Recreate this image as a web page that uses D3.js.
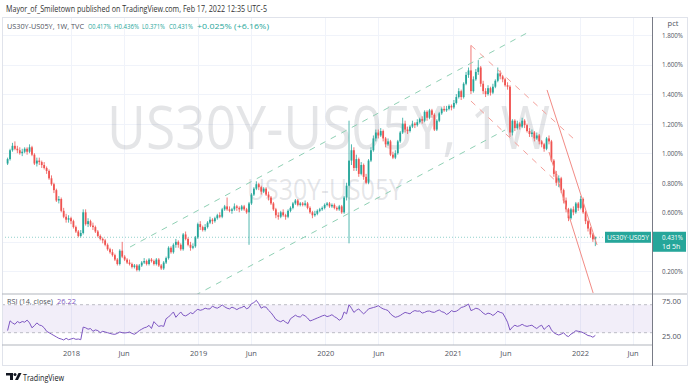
<!DOCTYPE html>
<html>
<head>
<meta charset="utf-8">
<script src="https://d3js.org/d3.v7.min.js"></script>
<style>
  body { margin: 0; background: #fff; }
  svg text { font-family: "Open Sans", "DejaVu Sans", sans-serif; }
</style>
</head>
<body>
<svg width="694" height="384"></svg>
<script>
  // weekly bars of TVC:US30Y - TVC:US05Y, first bar = week of 2017-07-03
  var firstWeek = new Date(2017, 6, 3);

  var opens = [
    0.93, 0.96, 1.02, 1.05, 1.03, 1.02, 1.00, 1.01, 1.03, 1.01,
    1.04, 0.99, 0.93, 0.95, 0.94, 0.92, 0.90, 0.88, 0.83, 0.79,
    0.75, 0.68, 0.69, 0.61, 0.57, 0.55, 0.56, 0.54, 0.50, 0.47,
    0.44, 0.46, 0.60, 0.52, 0.54, 0.51, 0.50, 0.47, 0.44, 0.42,
    0.41, 0.38, 0.35, 0.33, 0.31, 0.28, 0.25, 0.34, 0.30, 0.28,
    0.26, 0.25, 0.23, 0.24, 0.21, 0.24, 0.26, 0.27, 0.25, 0.28,
    0.27, 0.25, 0.28, 0.24, 0.22, 0.26, 0.29, 0.36, 0.33, 0.38,
    0.40, 0.38, 0.35, 0.45, 0.42, 0.38, 0.36, 0.37, 0.43, 0.52,
    0.50, 0.48, 0.50, 0.53, 0.55, 0.54, 0.56, 0.58, 0.57, 0.62,
    0.64, 0.62, 0.61, 0.62, 0.64, 0.63, 0.62, 0.64, 0.62, 0.60,
    0.66, 0.72, 0.76, 0.79, 0.77, 0.74, 0.76, 0.72, 0.70, 0.66,
    0.62, 0.58, 0.57, 0.60, 0.58, 0.57, 0.61, 0.63, 0.66, 0.68,
    0.65, 0.66, 0.65, 0.66, 0.63, 0.60, 0.58, 0.59, 0.61, 0.62,
    0.63, 0.65, 0.66, 0.64, 0.65, 0.63, 0.62, 0.64, 0.60, 0.70,
    0.78, 0.95, 1.02, 0.90, 0.96, 0.86, 0.92, 0.84, 0.80, 0.95,
    1.02, 1.10, 1.14, 1.12, 1.15, 1.10, 1.06, 1.08, 0.99, 0.97,
    1.00, 1.08, 1.14, 1.20, 1.16, 1.15, 1.18, 1.20, 1.19, 1.21,
    1.23, 1.22, 1.28, 1.24, 1.29, 1.26, 1.16, 1.22, 1.27, 1.30,
    1.29, 1.30, 1.32, 1.31, 1.34, 1.38, 1.42, 1.38, 1.47, 1.53,
    1.56, 1.42, 1.50, 1.55, 1.58, 1.47, 1.42, 1.40, 1.44, 1.41,
    1.45, 1.49, 1.54, 1.52, 1.50, 1.46, 1.45, 1.14, 1.22, 1.17,
    1.20, 1.18, 1.22, 1.19, 1.15, 1.13, 1.14, 1.10, 1.12, 1.08,
    1.06, 1.03, 1.10, 1.08, 0.95, 0.86, 0.80, 0.83, 0.75, 0.68,
    0.62, 0.56, 0.62, 0.60, 0.66, 0.63, 0.69, 0.60, 0.54, 0.49,
    0.45, 0.417
  ];
  var highs = [
    0.97, 1.03, 1.07, 1.08, 1.05, 1.04, 1.03, 1.04, 1.04, 1.06,
    1.05, 1.00, 0.97, 0.97, 0.95, 0.94, 0.91, 0.89, 0.85, 0.80,
    0.76, 0.71, 0.70, 0.63, 0.59, 0.58, 0.57, 0.55, 0.51, 0.48,
    0.48, 0.62, 0.62, 0.56, 0.55, 0.53, 0.51, 0.48, 0.45, 0.43,
    0.42, 0.39, 0.36, 0.35, 0.32, 0.29, 0.35, 0.40, 0.31, 0.29,
    0.28, 0.26, 0.25, 0.25, 0.25, 0.27, 0.29, 0.28, 0.29, 0.29,
    0.28, 0.29, 0.29, 0.25, 0.27, 0.30, 0.37, 0.37, 0.39, 0.42,
    0.41, 0.39, 0.46, 0.47, 0.43, 0.40, 0.39, 0.44, 0.53, 0.54,
    0.51, 0.52, 0.54, 0.57, 0.56, 0.57, 0.59, 0.60, 0.63, 0.65,
    0.70, 0.64, 0.63, 0.66, 0.65, 0.64, 0.65, 0.65, 0.63, 0.67,
    0.73, 0.77, 0.81, 0.80, 0.78, 0.77, 0.77, 0.74, 0.71, 0.67,
    0.63, 0.60, 0.61, 0.62, 0.59, 0.62, 0.64, 0.67, 0.69, 0.69,
    0.67, 0.67, 0.68, 0.67, 0.64, 0.61, 0.61, 0.62, 0.63, 0.64,
    0.66, 0.67, 0.67, 0.66, 0.66, 0.64, 0.65, 0.65, 0.71, 0.80,
    1.22, 1.06, 1.04, 0.99, 0.97, 0.94, 0.93, 0.86, 0.96, 1.04,
    1.12, 1.16, 1.16, 1.17, 1.16, 1.11, 1.10, 1.09, 1.01, 1.02,
    1.09, 1.15, 1.24, 1.22, 1.18, 1.19, 1.22, 1.21, 1.23, 1.24,
    1.25, 1.29, 1.29, 1.30, 1.30, 1.27, 1.23, 1.28, 1.31, 1.32,
    1.32, 1.33, 1.33, 1.36, 1.40, 1.44, 1.43, 1.48, 1.55, 1.58,
    1.73, 1.52, 1.57, 1.63, 1.59, 1.49, 1.44, 1.46, 1.45, 1.47,
    1.50, 1.58, 1.56, 1.53, 1.51, 1.48, 1.46, 1.23, 1.23, 1.22,
    1.21, 1.24, 1.23, 1.20, 1.17, 1.16, 1.15, 1.14, 1.13, 1.09,
    1.07, 1.11, 1.12, 1.09, 0.96, 0.88, 0.85, 0.84, 0.76, 0.70,
    0.63, 0.63, 0.64, 0.67, 0.67, 0.71, 0.70, 0.61, 0.55, 0.50,
    0.46, 0.436
  ];
  var lows = [
    0.92, 0.95, 1.01, 1.02, 1.00, 0.99, 0.98, 1.00, 0.99, 1.00,
    0.98, 0.92, 0.91, 0.92, 0.90, 0.89, 0.86, 0.82, 0.78, 0.73,
    0.67, 0.66, 0.60, 0.56, 0.53, 0.53, 0.52, 0.49, 0.46, 0.43,
    0.43, 0.45, 0.51, 0.50, 0.50, 0.48, 0.46, 0.43, 0.41, 0.39,
    0.37, 0.34, 0.32, 0.30, 0.27, 0.24, 0.24, 0.29, 0.27, 0.25,
    0.24, 0.22, 0.22, 0.20, 0.20, 0.23, 0.25, 0.24, 0.24, 0.26,
    0.24, 0.24, 0.23, 0.21, 0.21, 0.25, 0.28, 0.32, 0.32, 0.36,
    0.36, 0.34, 0.34, 0.41, 0.37, 0.34, 0.35, 0.36, 0.42, 0.48,
    0.47, 0.47, 0.49, 0.52, 0.52, 0.53, 0.55, 0.56, 0.56, 0.61,
    0.61, 0.60, 0.59, 0.61, 0.61, 0.60, 0.61, 0.61, 0.59, 0.38,
    0.65, 0.71, 0.75, 0.75, 0.72, 0.73, 0.71, 0.68, 0.65, 0.61,
    0.56, 0.55, 0.56, 0.57, 0.55, 0.56, 0.60, 0.62, 0.65, 0.64,
    0.64, 0.64, 0.64, 0.62, 0.59, 0.56, 0.57, 0.58, 0.60, 0.61,
    0.62, 0.64, 0.63, 0.63, 0.62, 0.61, 0.61, 0.59, 0.59, 0.68,
    0.39, 0.92, 0.88, 0.88, 0.84, 0.85, 0.82, 0.79, 0.79, 0.94,
    1.01, 1.08, 1.10, 1.11, 1.08, 1.04, 1.05, 0.98, 0.96, 0.96,
    0.99, 1.07, 1.13, 1.14, 1.13, 1.14, 1.17, 1.17, 1.18, 1.20,
    1.20, 1.21, 1.22, 1.23, 1.24, 1.15, 1.15, 1.21, 1.26, 1.28,
    1.28, 1.29, 1.29, 1.30, 1.33, 1.37, 1.36, 1.37, 1.46, 1.51,
    1.40, 1.41, 1.49, 1.53, 1.45, 1.40, 1.38, 1.39, 1.39, 1.40,
    1.44, 1.48, 1.50, 1.48, 1.45, 1.43, 1.11, 1.12, 1.15, 1.16,
    1.16, 1.17, 1.17, 1.14, 1.11, 1.11, 1.08, 1.09, 1.06, 1.04,
    1.01, 1.02, 1.06, 0.94, 0.84, 0.78, 0.77, 0.73, 0.66, 0.60,
    0.54, 0.55, 0.58, 0.59, 0.61, 0.62, 0.59, 0.52, 0.47, 0.43,
    0.40, 0.371
  ];
  var closes = [
    0.96, 1.02, 1.05, 1.03, 1.02, 1.00, 1.01, 1.03, 1.01, 1.04,
    0.99, 0.93, 0.95, 0.94, 0.92, 0.90, 0.88, 0.83, 0.79, 0.75,
    0.68, 0.69, 0.61, 0.57, 0.55, 0.56, 0.54, 0.50, 0.47, 0.44,
    0.46, 0.60, 0.52, 0.54, 0.51, 0.50, 0.47, 0.44, 0.42, 0.41,
    0.38, 0.35, 0.33, 0.31, 0.28, 0.25, 0.34, 0.30, 0.28, 0.26,
    0.25, 0.23, 0.24, 0.21, 0.24, 0.26, 0.27, 0.25, 0.28, 0.27,
    0.25, 0.28, 0.24, 0.22, 0.26, 0.29, 0.36, 0.33, 0.38, 0.40,
    0.38, 0.35, 0.45, 0.42, 0.38, 0.36, 0.37, 0.43, 0.52, 0.50,
    0.48, 0.50, 0.53, 0.55, 0.54, 0.56, 0.58, 0.57, 0.62, 0.64,
    0.62, 0.61, 0.62, 0.64, 0.63, 0.62, 0.64, 0.62, 0.60, 0.66,
    0.72, 0.76, 0.79, 0.77, 0.74, 0.76, 0.72, 0.70, 0.66, 0.62,
    0.58, 0.57, 0.60, 0.58, 0.57, 0.61, 0.63, 0.66, 0.68, 0.65,
    0.66, 0.65, 0.66, 0.63, 0.60, 0.58, 0.59, 0.61, 0.62, 0.63,
    0.65, 0.66, 0.64, 0.65, 0.63, 0.62, 0.64, 0.60, 0.70, 0.78,
    0.95, 1.02, 0.90, 0.96, 0.86, 0.92, 0.84, 0.80, 0.95, 1.02,
    1.10, 1.14, 1.12, 1.15, 1.10, 1.06, 1.08, 0.99, 0.97, 1.00,
    1.08, 1.14, 1.20, 1.16, 1.15, 1.18, 1.20, 1.19, 1.21, 1.23,
    1.22, 1.28, 1.24, 1.29, 1.26, 1.16, 1.22, 1.27, 1.30, 1.29,
    1.30, 1.32, 1.31, 1.34, 1.38, 1.42, 1.38, 1.47, 1.53, 1.56,
    1.42, 1.50, 1.55, 1.58, 1.47, 1.42, 1.40, 1.44, 1.41, 1.45,
    1.49, 1.54, 1.52, 1.50, 1.46, 1.45, 1.14, 1.22, 1.17, 1.20,
    1.18, 1.22, 1.19, 1.15, 1.13, 1.14, 1.10, 1.12, 1.08, 1.06,
    1.03, 1.10, 1.08, 0.95, 0.86, 0.80, 0.83, 0.75, 0.68, 0.62,
    0.56, 0.62, 0.60, 0.66, 0.63, 0.69, 0.60, 0.54, 0.49, 0.45,
    0.417, 0.431
  ];
  // RSI(14, close)
  var rsi = [
    33, 47, 44, 42, 46, 44, 46, 45, 48, 44,
    37, 40, 44, 41, 40, 37, 32, 30, 28, 26,
    24, 22, 21, 19.6, 22, 20, 21, 22, 20.5, 21,
    20, 38, 37, 35, 36, 32, 34, 33, 30, 32,
    31, 30, 29, 28, 27.7, 29, 31, 30, 29.6, 30,
    31, 29, 27.7, 30, 33, 35, 37, 38, 40.5, 36,
    45.8, 42, 39, 40, 39, 50, 52.4, 56, 59.6, 52,
    56, 59.6, 55, 54, 56, 58.7, 57, 61, 63.4, 62,
    63, 65, 64, 64, 68, 66, 65, 67, 69.7, 67,
    65, 64, 66.5, 65, 63, 65, 66, 68, 64, 66,
    71.4, 73, 76.3, 71.4, 65, 67, 66.5, 62, 58.7, 54,
    49, 47, 45.6, 47.8, 45, 43, 50, 52.4, 55, 53,
    52.4, 55.7, 54, 51, 46.7, 48, 49.5, 51, 52.4, 54,
    55, 53, 54, 55.7, 53, 51, 47.8, 50, 59.6, 57,
    70, 65, 59, 62, 64, 60, 57, 60, 64, 65,
    66, 67, 68.6, 66, 64, 63, 61.6, 57, 54, 52,
    53, 54.6, 57, 59, 58, 57, 60, 61.6, 60.7, 61,
    58, 59, 60.7, 61, 59.5, 59, 61, 62.5, 60, 59,
    56, 58, 61.6, 60, 60.7, 63, 66, 67, 68.6, 71,
    61.6, 63, 65, 64, 61.6, 58, 56, 58, 57, 54.6,
    57, 60.7, 59, 58, 52, 45, 33.7, 38, 40.7, 39,
    40, 42, 40, 39, 40, 40.7, 38, 36, 39, 40.7,
    34.7, 38, 40.7, 34, 30, 28, 26.7, 28, 30, 26,
    24.4, 28, 30, 32.8, 32, 31.4, 30, 28, 26, 25.3,
    23.5, 26.22
  ];

  var timeTicks = [new Date(2018,0,1), new Date(2018,5,1), new Date(2019,0,1), new Date(2019,5,1),
    new Date(2020,0,1), new Date(2020,5,1), new Date(2021,0,1), new Date(2021,5,1),
    new Date(2022,0,1), new Date(2022,5,1)];
  var timeLabels = ["2018", "Jun", "2019", "Jun", "2020", "Jun", "2021", "Jun", "2022", "Jun"];
  var priceTicks = [0.2, 0.4, 0.6, 0.8, 1.0, 1.2, 1.4, 1.6, 1.8];
  var rsiTicks = [25, 75];
  var rsiBand = [30, 70];
  var lastClose = 0.431;

  // user drawings, as [bar index, value] end points
  var greenChannel = [[[50.2, 0.365], [213, 1.814]], [[76.8, 0.037], [204, 1.157]]];
  var redChannel = [[[190, 1.73], [232.7, 1.089]], [[190, 1.353], [226.5, 0.785]]];
  var redLines = [[[221.2, 1.428], [241.7, 0.379]], [[222, 1.008], [240.1, 0.054]]];

  var up = "#26a69a", down = "#ef5350", axisText = "#50535e", gridCol = "#f0f3fa";

  var svg = d3.select("svg");
  var n = closes.length;
  var bars = d3.range(n).map(function(i) {
    return {date: d3.timeWeek.offset(firstWeek, i), o: opens[i], h: highs[i], l: lows[i], c: closes[i]};
  });

  var x = d3.scaleTime().domain([new Date(2018,0,1), new Date(2022,0,1)]).range([71, 580]);
  var xi = d3.scaleLinear().domain([0, n - 1]).range([x(bars[0].date), x(bars[n - 1].date)]);
  var y = d3.scaleLinear().domain([0.2, 1.8]).range([271.4, 35]);
  var yr = d3.scaleLinear().domain([30, 70]).range([332.7, 304.7]);

  var plotL = 2, plotR = 652, plotT = 17, paneSplit = 294, rsiBottom = 345;

  svg.append("defs").append("clipPath").attr("id", "pricePane")
    .append("rect").attr("x", plotL).attr("y", plotT).attr("width", plotR - plotL).attr("height", paneSplit - plotT);

  // header
  svg.append("text").attr("x", 6).attr("y", 12).attr("font-size", 8.5).attr("fill", "#333")
    .attr("textLength", 261).attr("lengthAdjust", "spacingAndGlyphs")
    .text("Mayor_of_Smiletown published on TradingView.com, Feb 17, 2022 12:35 UTC-5");

  // grid
  svg.append("g").selectAll("line").data(priceTicks).enter().append("line")
    .attr("x1", plotL).attr("x2", plotR).attr("y1", function(d) { return Math.round(y(d)) + 0.5; })
    .attr("y2", function(d) { return Math.round(y(d)) + 0.5; })
    .attr("stroke", gridCol);
  svg.append("g").selectAll("line").data(timeTicks).enter().append("line")
    .attr("x1", function(d) { return Math.round(x(d)) + 0.5; }).attr("x2", function(d) { return Math.round(x(d)) + 0.5; })
    .attr("y1", plotT).attr("y2", rsiBottom).attr("stroke", gridCol);

  // watermarks
  svg.append("text").attr("x", 107).attr("y", 149).attr("font-size", 60).attr("fill", "#787b86")
    .attr("fill-opacity", 0.2).attr("textLength", 443).attr("lengthAdjust", "spacingAndGlyphs")
    .text("US30Y-US05Y, 1W");
  svg.append("text").attr("x", 247).attr("y", 200).attr("font-size", 30).attr("fill", "#787b86")
    .attr("fill-opacity", 0.2).attr("textLength", 156).attr("lengthAdjust", "spacingAndGlyphs")
    .text("US30Y-US05Y");

  // last price line
  svg.append("line").attr("x1", plotL).attr("x2", plotR).attr("y1", y(lastClose)).attr("y2", y(lastClose))
    .attr("stroke", up).attr("stroke-opacity", 0.5).attr("stroke-dasharray", "1,2");

  // candles
  var cg = svg.append("g").attr("clip-path", "url(#pricePane)");
  var bar = cg.selectAll("g").data(bars).enter().append("g");
  bar.append("line")
    .attr("x1", function(d) { return x(d.date); }).attr("x2", function(d) { return x(d.date); })
    .attr("y1", function(d) { return y(d.h); }).attr("y2", function(d) { return y(d.l); })
    .attr("stroke", function(d) { return d.c >= d.o ? up : down; }).attr("stroke-width", 0.8);
  bar.append("rect")
    .attr("x", function(d) { return x(d.date) - 0.9; }).attr("width", 1.8)
    .attr("y", function(d) { return y(Math.max(d.o, d.c)); })
    .attr("height", function(d) { return Math.max(1, Math.abs(y(d.o) - y(d.c))); })
    .attr("fill", function(d) { return d.c >= d.o ? up : down; });

  // drawings
  var dg = svg.append("g").attr("clip-path", "url(#pricePane)");
  function drawLines(set, color, dash) {
    dg.selectAll(null).data(set).enter().append("line")
      .attr("x1", function(d) { return xi(d[0][0]); }).attr("y1", function(d) { return y(d[0][1]); })
      .attr("x2", function(d) { return xi(d[1][0]); }).attr("y2", function(d) { return y(d[1][1]); })
      .attr("stroke", color).attr("stroke-width", 1).attr("stroke-dasharray", dash);
  }
  drawLines(greenChannel, "#8fd0b4", "6,6");
  drawLines(redChannel, "#f4a09a", "6,6");
  drawLines(redLines, "#f28b85", null);

  // price axis
  var pa = svg.append("g").attr("transform", "translate(" + plotR + ",0)")
    .call(d3.axisRight(y).tickValues(priceTicks).tickSize(0).tickPadding(10)
      .tickFormat(function(d) { return d3.format(".3f")(d) + "%"; }));
  pa.select(".domain").remove();
  pa.selectAll("text").attr("font-size", 7.5).attr("fill", axisText).attr("font-family", null)
    .attr("textLength", 21).attr("lengthAdjust", "spacingAndGlyphs");
  // the 0.400% tick sits under the last value label
  pa.selectAll(".tick").filter(function(d) { return Math.abs(d - lastClose) < 0.05; }).remove();
  svg.append("text").attr("x", 673).attr("y", 26).attr("text-anchor", "middle").attr("font-size", 7.5)
    .attr("fill", axisText).text("pct");

  // last value labels
  svg.append("rect").attr("x", 605).attr("y", y(lastClose) - 5.5).attr("width", 46).attr("height", 11).attr("fill", up);
  svg.append("text").attr("x", 628).attr("y", y(lastClose) + 3).attr("text-anchor", "middle").attr("font-size", 7)
    .attr("fill", "#fff").attr("textLength", 42).attr("lengthAdjust", "spacingAndGlyphs").text("US30Y·US05Y");
  svg.append("rect").attr("x", plotR).attr("y", y(lastClose) - 5.5).attr("width", 34).attr("height", 20).attr("fill", up);
  svg.append("text").attr("x", 662).attr("y", y(lastClose) + 2.5).attr("font-size", 7.5).attr("fill", "#fff")
    .attr("textLength", 21).attr("lengthAdjust", "spacingAndGlyphs").text("0.431%");
  svg.append("text").attr("x", 662).attr("y", y(lastClose) + 11.5).attr("font-size", 7).attr("fill", "#fff")
    .text("1d 5h");

  // RSI pane
  svg.append("rect").attr("x", plotL).attr("width", plotR - plotL)
    .attr("y", yr(rsiBand[1])).attr("height", yr(rsiBand[0]) - yr(rsiBand[1]))
    .attr("fill", "#7e57c2").attr("fill-opacity", 0.1);
  svg.append("g").selectAll("line").data(rsiBand).enter().append("line")
    .attr("x1", plotL).attr("x2", plotR).attr("y1", function(d) { return yr(d); }).attr("y2", function(d) { return yr(d); })
    .attr("stroke", "#9598a1").attr("stroke-opacity", 0.6).attr("stroke-dasharray", "3,3");
  svg.append("path").datum(bars.map(function(b, i) { return [b.date, rsi[i]]; }))
    .attr("fill", "none").attr("stroke", "#7e57c2").attr("stroke-width", 1)
    .attr("d", d3.line().x(function(d) { return x(d[0]); }).y(function(d) { return yr(d[1]); }));
  svg.append("text").attr("x", 7).attr("y", 304).attr("font-size", 7.5).attr("fill", axisText)
    .attr("textLength", 46).attr("lengthAdjust", "spacingAndGlyphs").text("RSI (14, close)");
  svg.append("text").attr("x", 57).attr("y", 304).attr("font-size", 7.5).attr("fill", "#7e57c2").text("26.22");

  var ra = svg.append("g").attr("transform", "translate(" + plotR + ",0)")
    .call(d3.axisRight(yr).tickValues(rsiTicks).tickSize(0).tickPadding(10).tickFormat(d3.format(".2f")));
  ra.select(".domain").remove();
  ra.selectAll("text").attr("font-size", 7.5).attr("fill", axisText).attr("font-family", null);

  // time axis
  var ta = svg.append("g").attr("transform", "translate(0," + rsiBottom + ")")
    .call(d3.axisBottom(x).tickValues(timeTicks).tickSize(0).tickPadding(6)
      .tickFormat(function(d, i) { return timeLabels[i]; }));
  ta.select(".domain").remove();
  ta.selectAll("text").attr("font-size", 7.5).attr("fill", axisText).attr("font-family", null);

  // frame and pane borders
  svg.append("rect").attr("x", 2.5).attr("y", plotT + 0.5).attr("width", 685).attr("height", 348)
    .attr("fill", "none").attr("stroke", "#e0e3eb");
  svg.append("line").attr("x1", plotL).attr("x2", 687).attr("y1", paneSplit).attr("y2", paneSplit)
    .attr("stroke", "#b2b5be").attr("stroke-width", 1.2);
  svg.append("line").attr("x1", plotL).attr("x2", plotR).attr("y1", rsiBottom).attr("y2", rsiBottom)
    .attr("stroke", "#b2b5be").attr("stroke-width", 1.2);
  svg.append("line").attr("x1", plotR + 0.5).attr("x2", plotR + 0.5).attr("y1", plotT).attr("y2", 366)
    .attr("stroke", "#787b86").attr("stroke-width", 1);

  // legend
  var lg = svg.append("g").attr("font-size", 6.5);
  lg.append("text").attr("x", 7).attr("y", 29).attr("fill", "#50535e").attr("font-size", 7.5)
    .attr("textLength", 77).attr("lengthAdjust", "spacingAndGlyphs").text("US30Y-US05Y, 1W, TVC");
  var legendItems = ["O0.417%", "H0.436%", "L0.371%", "C0.431%", "+0.025% (+6.16%)"];
  var legendX = [88, 114, 142, 169, 197];
  var legendW = [23, 25, 23, 24, 72];
  lg.selectAll(null).data(legendItems).enter().append("text")
    .attr("x", function(d, i) { return legendX[i]; }).attr("y", 29).attr("fill", up)
    .attr("textLength", function(d, i) { return legendW[i]; }).attr("lengthAdjust", "spacingAndGlyphs")
    .text(function(d) { return d; });

  // TradingView mark
  var logo = svg.append("g").attr("fill", "#131722");
  logo.append("path").attr("d", "M6,373 h7 v7 h-3 v-4.5 h-4 z");
  logo.append("circle").attr("cx", 15).attr("cy", 374.6).attr("r", 1.5);
  logo.append("path").attr("d", "M18.5,373 h3 l-3.5,7 h-3 z");
  svg.append("text").attr("x", 23).attr("y", 380.5).attr("font-size", 9).attr("fill", "#131722")
    .attr("textLength", 41).attr("lengthAdjust", "spacingAndGlyphs").text("TradingView");
</script>
</body>
</html>
